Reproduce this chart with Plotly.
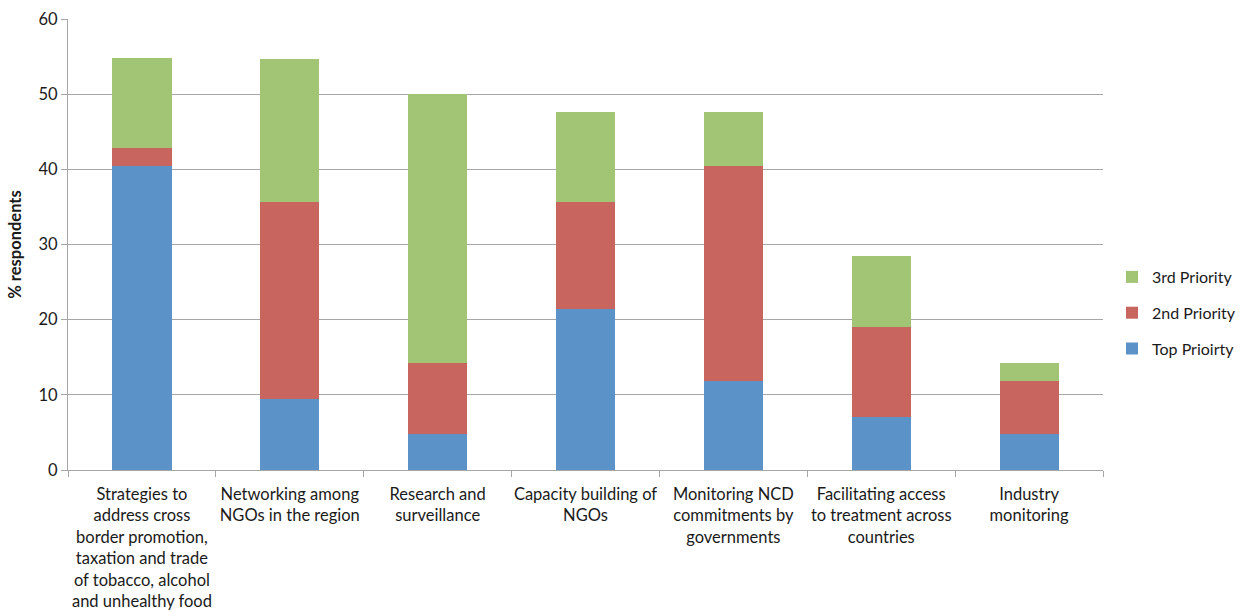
import plotly.graph_objects as go

categories = [
    "Strategies to<br>address cross<br>border promotion,<br>taxation and trade<br>of tobacco, alcohol<br>and unhealthy food",
    "Networking among<br>NGOs in the region",
    "Research and<br>surveillance",
    "Capacity building of<br>NGOs",
    "Monitoring NCD<br>commitments by<br>governments",
    "Facilitating access<br>to treatment across<br>countries",
    "Industry<br>monitoring",
]
top_priority = [40.5, 9.5, 4.8, 21.4, 11.9, 7.1, 4.8]
second_priority = [2.4, 26.2, 9.5, 14.3, 28.6, 11.9, 7.1]
third_priority = [11.9, 19.0, 35.7, 11.9, 7.1, 9.5, 2.4]

# (legend name, values, colour, legend rank) - stacked bottom to top
series = [
    ("Top Prioirty", top_priority, "#5B93C8", 3),
    ("2nd Priority", second_priority, "#C9655F", 2),
    ("3rd Priority", third_priority, "#A2C475", 1),
]

fig = go.Figure()
for name, vals, color, rank in series:
    fig.add_trace(go.Bar(
        x=categories, y=vals, name=name, legendgroup=name, legendrank=rank,
        marker=dict(color=color, line=dict(width=0)),
    ))

font = "Lato, 'Open Sans', sans-serif"
fig.update_layout(
    width=1247, height=612,
    barmode="stack", bargap=0.6,
    plot_bgcolor="white", paper_bgcolor="white",
    margin=dict(l=68, r=144, t=19, b=142),
    font=dict(family=font, size=16.5, color="#1a1a1a"),
    legend=dict(
        traceorder="grouped", tracegroupgap=12,
        xref="container", yref="container",
        x=1112 / 1247, y=1 - 313 / 612, yanchor="middle", xanchor="left",
        font=dict(size=16), itemwidth=30,
    ),
    xaxis=dict(
        showline=True, linecolor="#a6a6a6", linewidth=1,
        ticks="outside", tickson="boundaries", ticklen=6, tickcolor="#a6a6a6",
        tickfont=dict(size=16.5), tickangle=0, showgrid=False,
        ticklabelstandoff=9, automargin=False,
    ),
    yaxis=dict(
        range=[0, 60], dtick=10,
        showline=True, linecolor="#a6a6a6", linewidth=1,
        ticks="outside", ticklen=6, tickcolor="#a6a6a6",
        gridcolor="#a6a6a6", gridwidth=1,
        title=dict(text="<b>% respondents</b>", font=dict(size=16.5), standoff=12),
        tickfont=dict(size=16.5), zeroline=False, automargin=False,
    ),
)

fig.write_html("out.html")
